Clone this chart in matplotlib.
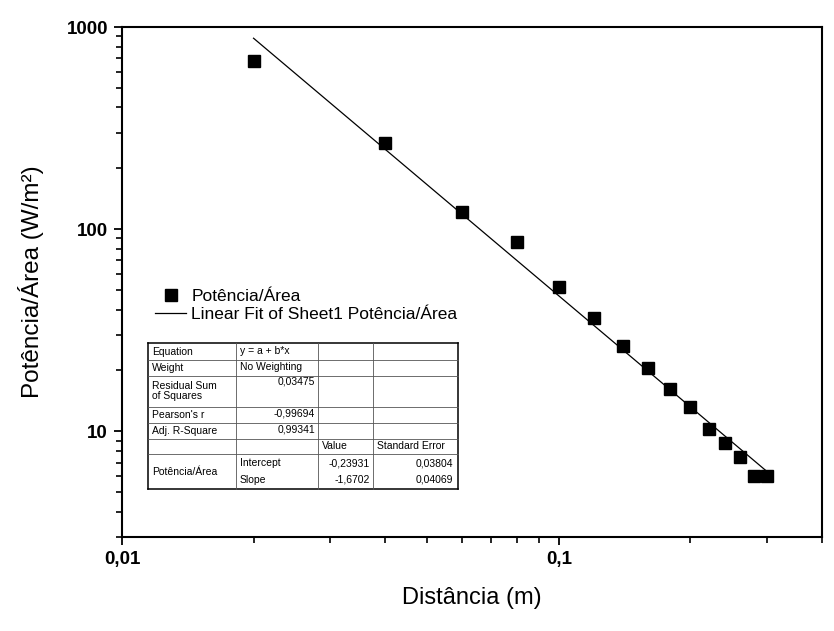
import numpy as np
import matplotlib
matplotlib.use("Agg")
import matplotlib.pyplot as plt
from matplotlib.lines import Line2D
from matplotlib.ticker import FuncFormatter, LogLocator, NullFormatter

plt.rcParams['font.family'] = ['Liberation Sans', 'DejaVu Sans']

# measured points
distancia = [0.02, 0.04, 0.06, 0.08, 0.10, 0.12, 0.14, 0.16, 0.18, 0.20,
             0.22, 0.24, 0.26, 0.28, 0.30]
potencia_area = [678, 266, 122, 86.7, 51.8, 36.4, 26.4, 20.5, 16.2, 13.2,
                 10.3, 8.8, 7.43, 5.98, 5.98]

# linear fit line (log-log), endpoints
fit_x = [0.02, 0.30]
fit_y = [880, 6.3]

# fit results table
table_col0 = ["Equation", "Weight", "Residual Sum\nof Squares", "Pearson's r",
              "Adj. R-Square", "Potência/Área"]
table_col1 = ["y = a + b*x", "No Weighting", "0,03475", "-0,99694", "0,99341",
              "Intercept", "Slope"]
table_head = ["Value", "Standard Error"]
table_values = ["-0,23931", "-1,6702"]
table_errors = ["0,03804", "0,04069"]

W, H = 834, 631
fig = plt.figure(figsize=(W / 100, H / 100), dpi=100)
ax = fig.add_axes([122 / W, 1 - 537 / H, 700 / W, 510 / H])


def px(x, y):
    return x / W, 1 - y / H


pts, = ax.plot(distancia, potencia_area, 's', color='black', ms=9,
               label='Potência/Área')
fit, = ax.plot(fit_x, fit_y, '-', color='black', lw=0.9,
               label='Linear Fit of Sheet1 Potência/Área')

ax.set_xscale('log')
ax.set_yscale('log')
ax.set_xlim(0.01, 0.4)
ax.set_ylim(3, 1000)

fmt = FuncFormatter(lambda v, _: f"{v:g}".replace('.', ','))
ax.xaxis.set_major_formatter(fmt)
ax.yaxis.set_major_formatter(fmt)
ax.xaxis.set_minor_formatter(NullFormatter())
ax.yaxis.set_minor_formatter(NullFormatter())
ax.xaxis.set_minor_locator(LogLocator(subs=np.arange(2, 10)))
ax.yaxis.set_minor_locator(LogLocator(subs=np.arange(2, 10)))
ax.tick_params(which='major', length=6, width=1.3, labelsize=13.5, pad=4)
ax.tick_params(which='minor', length=4, width=1.2)
for lab in ax.get_xticklabels() + ax.get_yticklabels():
    lab.set_fontweight('bold')
for s in ax.spines.values():
    s.set_linewidth(1.5)

ax.set_xlabel('Distância (m)', fontsize=17, labelpad=14)
ax.set_ylabel('Potência/Área (W/m²)', fontsize=17.5, labelpad=16)

ax.legend(handles=[pts, fit], loc='upper left', frameon=False,
          bbox_to_anchor=px(155, 289), bbox_transform=fig.transFigure,
          fontsize=12.5, handlelength=1.8, handletextpad=0.3,
          labelspacing=0.15, borderaxespad=0, borderpad=0)

# table lines
L, R, T, B = 148, 458, 343, 489
cols = [236, 318, 373]
rows = [360, 376, 407, 423, 439, 454]
for x0, y0, x1, y1 in [(L, T, R, T), (L, B, R, B), (L, T, L, B), (R, T, R, B)]:
    fig.add_artist(Line2D([px(x0, y0)[0], px(x1, y1)[0]],
                          [px(x0, y0)[1], px(x1, y1)[1]],
                          color='black', lw=1.1, transform=fig.transFigure))
for c in cols:
    fig.add_artist(Line2D([c / W, c / W], [px(0, T)[1], px(0, B)[1]],
                          color='#555555', lw=0.6, transform=fig.transFigure))
for r in rows:
    fig.add_artist(Line2D([L / W, R / W], [px(0, r)[1], px(0, r)[1]],
                          color='#555555', lw=0.6, transform=fig.transFigure))

ts = 7.5
col0_y = [352, 368, 391, 415, 431, 472]
for s, y in zip(table_col0, col0_y):
    fig.text(*px(152, y), s, fontsize=ts, ha='left', va='center',
             linespacing=1.0)
col1_y = [351, 367, 382, 414, 430, 463, 480]
col1_align = ['left', 'left', 'right', 'right', 'right', 'left', 'left']
for s, y, a in zip(table_col1, col1_y, col1_align):
    x = 240 if a == 'left' else 315
    fig.text(*px(x, y), s, fontsize=ts, ha=a, va='center')
fig.text(*px(322, 446), table_head[0], fontsize=ts, ha='left', va='center')
fig.text(*px(377, 446), table_head[1], fontsize=ts, ha='left', va='center')
for s, e, y in zip(table_values, table_errors, [463, 480]):
    fig.text(*px(370, y), s, fontsize=ts, ha='right', va='center')
    fig.text(*px(453, y), e, fontsize=ts, ha='right', va='center')

fig.savefig('out.png', dpi=100)
